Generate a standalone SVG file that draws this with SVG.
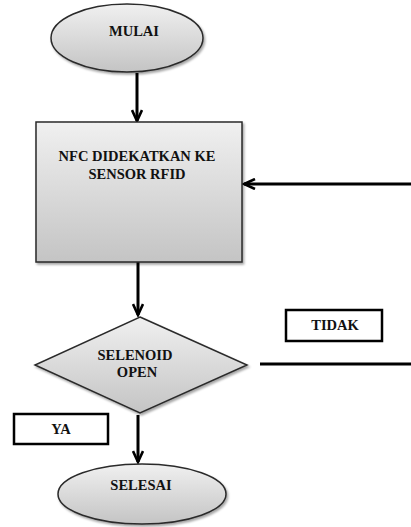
<svg xmlns="http://www.w3.org/2000/svg" width="411" height="527" viewBox="0 0 411 527">
<style>
.shape{fill:url(#g);stroke:#2a2a2a;stroke-width:1.5;filter:url(#sh)}
.lbl{fill:#fff;stroke:#000;stroke-width:2.5}
.t{font-family:'Liberation Serif','Times New Roman',Times,serif;font-weight:bold;font-size:14.5px;fill:#111;text-anchor:middle}
.c{stroke:#000;stroke-width:3;fill:none}
</style>
<defs>
<linearGradient id="g" x1="0" y1="0" x2="0" y2="1">
<stop offset="0" stop-color="#f0f0f0"/>
<stop offset="1" stop-color="#c4c4c4"/>
</linearGradient>
<filter id="sh" x="-10%" y="-10%" width="130%" height="130%">
<feDropShadow dx="1.5" dy="2" stdDeviation="1.2" flood-color="#000" flood-opacity="0.35"/>
</filter>
<marker id="ah" viewBox="0 0 14 12" refX="12" refY="6" markerWidth="14" markerHeight="12" markerUnits="userSpaceOnUse" orient="auto">
<path d="M1,1 L12,6 L1,11" fill="none" stroke="#000" stroke-width="2.6"/>
</marker>
</defs>
<g id="connectors">
<line class="c" x1="137" y1="73" x2="137" y2="121" marker-end="url(#ah)"/>
<line class="c" x1="138" y1="262" x2="138" y2="315" marker-end="url(#ah)"/>
<line class="c" x1="138" y1="415" x2="138" y2="462" marker-end="url(#ah)"/>
<line class="c" x1="411" y1="184" x2="244" y2="184" marker-end="url(#ah)"/>
<line class="c" x1="260" y1="364" x2="411" y2="364"/>
</g>
<g id="mulai">
<ellipse class="shape" cx="127" cy="38" rx="76" ry="34"/>
<text class="t" x="134" y="36">MULAI</text>
</g>
<g id="nfc">
<rect class="shape" x="36" y="122" width="206" height="140"/>
<text class="t" x="137" y="161">NFC DIDEKATKAN KE</text>
<text class="t" x="137" y="179">SENSOR RFID</text>
</g>
<g id="selenoid">
<polygon class="shape" points="140,317 247,365 140,413 35,365"/>
<text class="t" x="135" y="360">SELENOID</text>
<text class="t" x="137" y="377">OPEN</text>
</g>
<g id="selesai">
<ellipse class="shape" cx="142" cy="494" rx="84" ry="30"/>
<text class="t" x="141" y="490">SELESAI</text>
</g>
<g id="tidak">
<rect class="lbl" x="286" y="310" width="96" height="31"/>
<text class="t" x="335" y="330">TIDAK</text>
</g>
<g id="ya">
<rect class="lbl" x="14" y="414" width="94" height="30"/>
<text class="t" x="61" y="434">YA</text>
</g>
</svg>
